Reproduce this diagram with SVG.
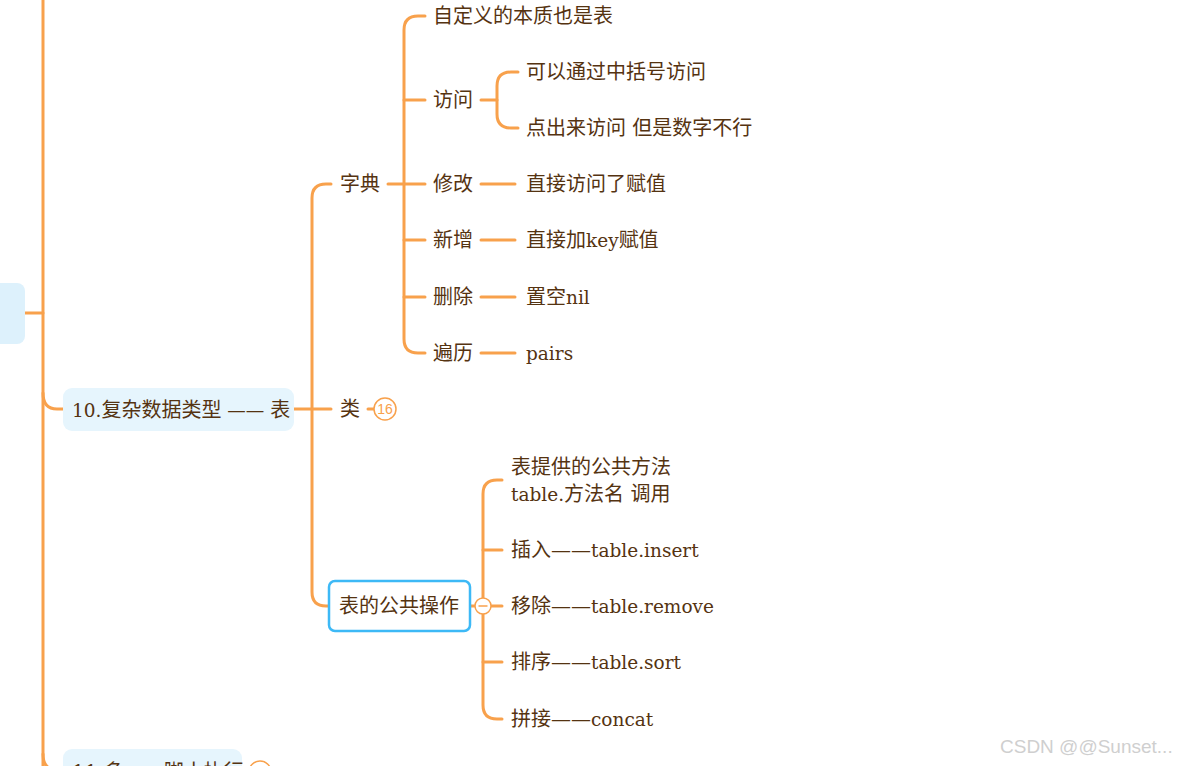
<svg xmlns="http://www.w3.org/2000/svg" width="1193" height="766" viewBox="0 0 1193 766">
<style>
.ln{fill:none;stroke:#F8A14C;stroke-width:3;stroke-linecap:round}
.t{font-family:"DejaVu Serif","Noto Sans CJK SC",serif;font-size:20px;fill:#553311}
.l{font-size:18.5px}
.node{fill:#E6F5FD}
</style>
<rect width="1193" height="766" fill="#ffffff"/>
<g id="connectors">
<path class="ln" d="M43 -5 V770"/>
<path class="ln" d="M25 313 H43"/>
<path class="ln" d="M43 393 Q43 409 57 409 H63"/>
<path class="ln" d="M43 754 Q43 770 57 770 H63"/>
<path class="ln" d="M294 409 H312"/>
<path class="ln" d="M331 184 H326 Q312 184 312 198 V592 Q312 606 326 606 H329"/>
<path class="ln" d="M312 409 H331"/>
<path class="ln" d="M388 184 H425"/>
<path class="ln" d="M425 16 H418 Q404 16 404 30 V339 Q404 353 418 353 H425"/>
<path class="ln" d="M404 100 H425"/>
<path class="ln" d="M404 240 H425"/>
<path class="ln" d="M404 297 H425"/>
<path class="ln" d="M481 100 H497"/>
<path class="ln" d="M518 72 H511 Q497 72 497 86 V114 Q497 128 511 128 H518"/>
<path class="ln" d="M481 184 H515"/>
<path class="ln" d="M481 240 H515"/>
<path class="ln" d="M481 297 H515"/>
<path class="ln" d="M481 353 H515"/>
<path class="ln" d="M368 409 H374"/>
<path class="ln" d="M470 606 H475"/>
<path class="ln" d="M502 480 H497 Q483 480 483 494 V705 Q483 719 497 719 H502"/>
<path class="ln" d="M483 550 H502"/>
<path class="ln" d="M491 606 H502"/>
<path class="ln" d="M483 662 H502"/>
</g>
<g id="node-left"><rect x="-10" y="283" width="35" height="61" rx="8" fill="#DDF1FC"/></g>
<g id="node-10"><rect class="node" x="63" y="388" width="231" height="43" rx="9"/><text class="t" x="72" y="417"><tspan class="l">10.</tspan>复杂数据类型<tspan class="l"> —— </tspan>表</text></g>
<g id="node-11"><rect class="node" x="63" y="749" width="179" height="40" rx="9"/><text class="t" x="72" y="779">11.多——脚本执行</text><circle cx="260" cy="772" r="11" fill="#fff" stroke="#F8A14C" stroke-width="1.5"/></g>
<g id="node-dict"><text class="t" x="340" y="191">字典</text></g>
<g id="node-class"><text class="t" x="340" y="416">类</text><circle cx="385" cy="409" r="11" fill="#fff" stroke="#F8A14C" stroke-width="1.5"/><text x="385" y="414" text-anchor="middle" font-family="Liberation Sans,sans-serif" font-size="14" fill="#F8A14C">16</text></g>
<g id="node-ops"><rect x="329" y="581" width="141" height="50" rx="6" fill="#fff" stroke="#3DB9F6" stroke-width="2.5"/><text class="t" x="339" y="613">表的公共操作</text><circle cx="483" cy="606" r="8" fill="#fff" stroke="#F8A14C" stroke-width="1.5"/><path d="M478.5 606 H487.5" stroke="#F8A14C" stroke-width="1.5"/></g>
<g id="node-d1"><text class="t" x="433" y="23">自定义的本质也是表</text></g>
<g id="node-d2"><text class="t" x="433" y="107">访问</text></g>
<g id="node-d2a"><text class="t" x="526" y="79">可以通过中括号访问</text></g>
<g id="node-d2b"><text class="t" x="526" y="135">点出来访问 但是数字不行</text></g>
<g id="node-d3"><text class="t" x="433" y="191">修改</text></g>
<g id="node-d3a"><text class="t" x="526" y="191">直接访问了赋值</text></g>
<g id="node-d4"><text class="t" x="433" y="247">新增</text></g>
<g id="node-d4a"><text class="t" x="526" y="247">直接加<tspan class="l">key</tspan>赋值</text></g>
<g id="node-d5"><text class="t" x="433" y="304">删除</text></g>
<g id="node-d5a"><text class="t" x="526" y="304">置空<tspan class="l">nil</tspan></text></g>
<g id="node-d6"><text class="t" x="433" y="360">遍历</text></g>
<g id="node-d6a"><text class="t" x="526" y="360"><tspan class="l">pairs</tspan></text></g>
<g id="node-o1"><text class="t" x="511" y="474">表提供的公共方法</text><text class="t" x="511" y="501"><tspan class="l">table.</tspan>方法名  调用</text></g>
<g id="node-o2"><text class="t" x="511" y="557">插入——<tspan class="l">table.insert</tspan></text></g>
<g id="node-o3"><text class="t" x="511" y="613">移除——<tspan class="l">table.remove</tspan></text></g>
<g id="node-o4"><text class="t" x="511" y="669">排序——<tspan class="l">table.sort</tspan></text></g>
<g id="node-o5"><text class="t" x="511" y="726">拼接——<tspan class="l">concat</tspan></text></g>
<text x="1000" y="753" font-family="Liberation Sans,sans-serif" font-size="19" fill="#cfcfcf">CSDN @@Sunset...</text>
</svg>
